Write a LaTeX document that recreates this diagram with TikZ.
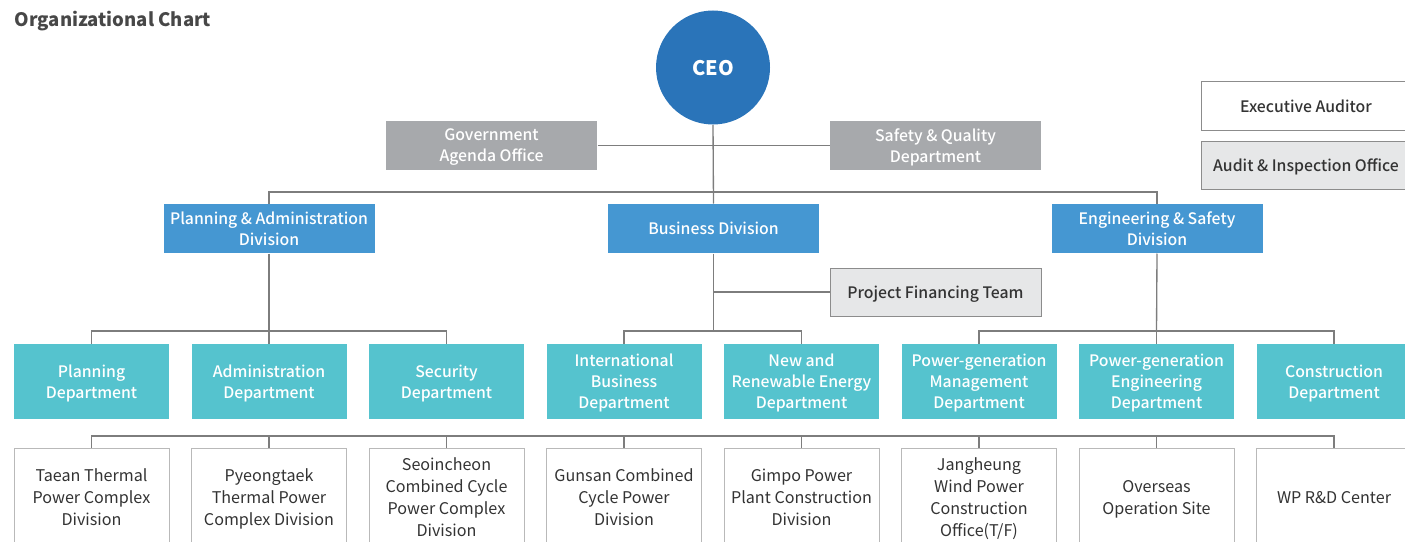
\documentclass[tikz,border=0pt]{standalone}
\usepackage{fontspec}
\setmainfont{Noto Sans CJK KR}
\newfontfamily\medfont{Noto Sans CJK KR Medium}

\definecolor{ceoblue}{RGB}{42,116,185}
\definecolor{divblue}{RGB}{69,151,210}
\definecolor{deptcyan}{RGB}{85,195,206}
\definecolor{staffgray}{RGB}{167,169,172}
\definecolor{lightbox}{RGB}{230,231,232}
\definecolor{linkgray}{RGB}{125,125,125}
\definecolor{boxline}{RGB}{140,140,140}
\definecolor{siteline}{RGB}{185,185,185}
\definecolor{textgray}{RGB}{51,51,51}

\tikzset{every picture/.style={line width=0.75pt}}
\tikzset{
  orgtext/.style={font=\medfont\fontsize{11.85}{15.75}\selectfont, align=center, inner sep=0pt, text depth=0pt},
  ceonode/.style={circle, fill=ceoblue, minimum size=85.5pt, inner sep=0pt, text=white, text height=12.6pt, text depth=0pt, font=\fontsize{15}{18}\selectfont\bfseries},
  staffbox/.style={orgtext, fill=staffgray, text=white, minimum width=158.25pt, minimum height=36.75pt},
  divbox/.style={orgtext, fill=divblue, text=white, minimum width=158.25pt, minimum height=36.75pt},
  deptbox/.style={orgtext, fill=deptcyan, text=white, minimum width=116.25pt, minimum height=56.25pt},
  sitebox/.style={orgtext, font=\fontsize{12.1}{16.5}\selectfont, draw=siteline, fill=white, text=textgray, minimum width=116.25pt, minimum height=73.5pt},
  auditbox/.style={orgtext, draw=boxline, text=textgray, minimum width=157.5pt, minimum height=36pt},
  link/.style={draw=linkgray, line width=1pt}
}

\begin{document}
\begin{tikzpicture}[x=0.75pt,y=0.75pt,yscale=-1,xscale=1]
\clip (0,0) rectangle (1405,542);

% Title
\node [anchor=west, text=textgray!90!white, font=\fontsize{13.9}{17}\selectfont\bfseries] (title) at (10,21.5) {Organizational Chart};

%Shape: Circle
\node [ceonode] (ceo) at (713,67.5) {CEO};

% Staff offices
\node [staffbox] (gov) at (491.5,145.5) {Government\\Agenda Office};
\node [staffbox] (sqd) at (935.5,145.5) {Safety \& Quality\\Department};

% Audit
\node [auditbox, fill=white] (exaud) at (1306,106) {Executive Auditor};
\node [auditbox, fill=lightbox] (audins) at (1306,165) {Audit \& Inspection Office};

% Divisions
\node [divbox] (pad) at (269,228.5) {Planning \& Administration\\Division};
\node [divbox] (busdiv) at (713.5,228.5) {Business Division};
\node [divbox] (esd) at (1157,228.5) {Engineering \& Safety\\Division};

\node [auditbox, fill=lightbox, minimum width=158.25pt] (pft) at (935.5,292) {Project Financing Team};

% Departments
\node [deptbox] (plan) at (91.5,381.5) {Planning\\Department};
\node [deptbox] (adm) at (269,381.5) {Administration\\Department};
\node [deptbox] (sec) at (446.5,381.5) {Security\\Department};
\node [deptbox] (intl) at (624,381.5) {International\\Business\\Department};
\node [deptbox] (nre) at (801.5,381.5) {New and\\Renewable Energy\\Department};
\node [deptbox] (pgm) at (979,381.5) {Power-generation\\Management\\Department};
\node [deptbox] (pge) at (1156.5,381.5) {Power-generation\\Engineering\\Department};
\node [deptbox] (cons) at (1334,381.5) {Construction\\Department};

% Sites
\node [sitebox] (taean) at (91.5,497) {Taean Thermal\\Power Complex\\Division};
\node [sitebox] (pyeong) at (269,497) {Pyeongtaek\\Thermal Power\\Complex Division};
\node [sitebox] (seoin) at (446.5,497) {Seoincheon\\Combined Cycle\\Power Complex\\Division};
\node [sitebox] (gunsan) at (624,497) {Gunsan Combined\\Cycle Power\\Division};
\node [sitebox] (gimpo) at (801.5,497) {Gimpo Power\\Plant Construction\\Division};
\node [sitebox] (jang) at (979,497) {Jangheung\\Wind Power\\Construction\\Office(T/F)};
\node [sitebox] (overs) at (1156.5,497) {Overseas\\Operation Site};
\node [sitebox] (wprd) at (1334,497) {WP R\&D Center};

% Bus points
\coordinate (topbus) at (713.5,192);
\coordinate (padbus) at (269,331);
\coordinate (busbus) at (713.5,331);
\coordinate (esdbus) at (1156.5,331);
\coordinate (sitebus) at (713.5,436);

%Straight Lines
\draw [link] (gov.east) -- (sqd.west);
\draw [link] (ceo.south) -- (busdiv.north);
\draw [link] (pad.north) |- (topbus) -| (esd.north);

\draw [link] (pad.south) -- (padbus);
\draw [link] (plan.north) |- (padbus) -| (sec.north);
\draw [link] (adm.north) -- (padbus);

\draw [link] (busdiv.south) -- (busbus);
\draw [link] (intl.north) |- (busbus) -| (nre.north);
\draw [link] (busdiv.south |- pft.west) -- (pft.west);

\draw [link] (esd.south) -- (esdbus);
\draw [link] (pgm.north) |- (esdbus) -| (cons.north);
\draw [link] (pge.north) -- (esdbus);

\draw [link] (taean.north) |- (sitebus) -| (wprd.north);
\foreach \s in {pyeong,seoin,gunsan,gimpo,jang,overs}
  \draw [link] (\s.north) -- (\s.north |- sitebus);

\end{tikzpicture}
\end{document}
